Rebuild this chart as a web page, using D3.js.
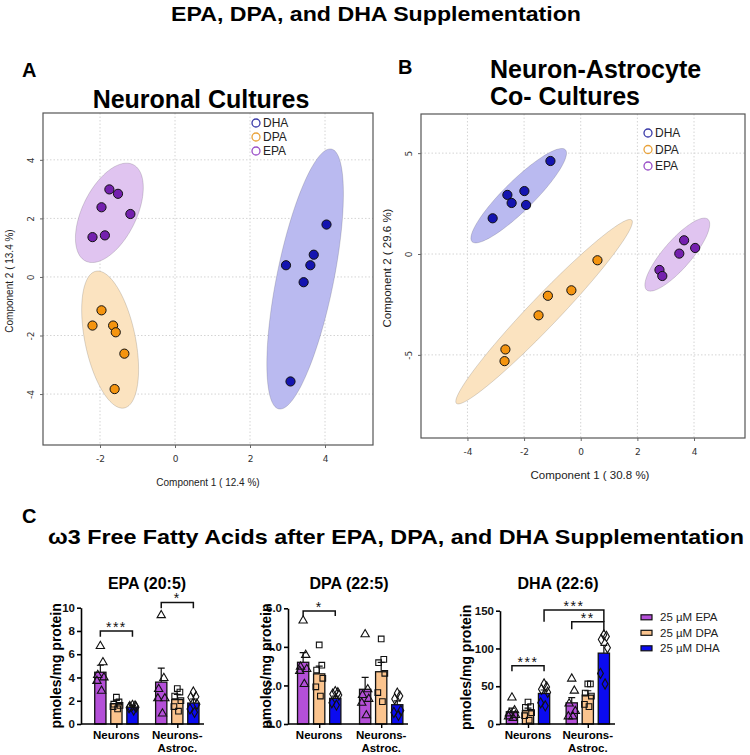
<!DOCTYPE html>
<html>
<head>
<meta charset="utf-8">
<script src="https://cdn.jsdelivr.net/npm/d3@7"></script>
<style>
  body { margin: 0; background: #fff; }
  svg { display: block; font-family: "Liberation Sans", Arial, sans-serif; }
</style>
</head>
<body>
<svg id="fig" width="750" height="755"></svg>
<script>
// ---------- PCA data ----------
var pcaGroups = ["DHA", "DPA", "EPA"]
var pcaColor = {DHA: "#1414b0", DPA: "#f4940f", EPA: "#7420ae"}
var pcaFill = {DHA: "#babaf0", DPA: "#fbe3c0", EPA: "#e0c4f0"}
var pcaLegendColor = {DHA: "#3a3aa8", DPA: "#e9a23a", EPA: "#9a4fc8"}

var neuronEPA = [[-1.75, 2.99], [-1.52, 2.84], [-1.96, 2.38], [-1.19, 2.15], [-2.20, 1.36], [-1.87, 1.42]]
var neuronDPA = [[-1.96, -1.14], [-2.20, -1.66], [-1.65, -1.66], [-1.58, -1.89], [-1.35, -2.62], [-1.61, -3.83]]
var neuronDHA = [[4.04, 1.79], [2.96, 0.40], [3.70, 0.76], [3.61, 0.40], [3.43, -0.18], [3.08, -3.57]]

var coEPA = [[3.65, 0.68], [3.48, 0.02], [4.04, 0.30], [2.78, -0.79], [2.88, -1.09]]
var coDPA = [[0.59, -0.31], [-0.33, -1.80], [-1.16, -2.07], [-1.49, -3.04], [-2.66, -4.73], [-2.69, -5.31]]
var coDHA = [[-1.07, 4.61], [-2.59, 2.93], [-2.44, 2.53], [-1.99, 3.12], [-1.93, 2.43], [-3.11, 1.77]]

// confidence ellipses: centre + the two semi-axis vectors, in data units
var neuronEllipses = [
  {g: "EPA", c: [-1.75, 2.19], a: [0.63, 1.65], b: [0.65, -0.40]},
  {g: "DPA", c: [-1.73, -2.14], a: [-0.377, 2.336], b: [0.659, 0.171]},
  {g: "DHA", c: [3.47, -0.07], a: [0.70, 4.44], b: [0.744, -0.19]}
]
var coEllipses = [
  {g: "DHA", c: [-2.19, 2.89], a: [1.647, 2.281], b: [0.372, -0.529]},
  {g: "DPA", c: [-1.294, -2.86], a: [3.094, 4.545], b: [0.382, -0.512]},
  {g: "EPA", c: [3.41, -0.03], a: [1.082, 1.752], b: [0.374, -0.456]}
]

// ---------- bar chart data ----------
var barGroups = ["Neurons", "Neurons-Astroc."]
var barGroupLines = [["Neurons"], ["Neurons-", "Astroc."]]
var treatments = ["25 µM EPA", "25 µM DPA", "25 µM DHA"]
var barColor = ["#b44fd8", "#fbc48e", "#0b0bf0"]

var epaMeans = [[4.45, 1.75, 1.45], [3.6, 2.1, 1.8]]
var epaErrTop = [[5.05, 2.05, 1.6], [4.8, 2.55, 2.15]]
var epaPts = [
  [[6.7, 5.3, 4.2, 4.0, 3.7, 2.85], [2.3, 1.9, 1.7, 1.6, 1.5, 1.3], [1.6, 1.55, 1.5, 1.45, 1.4, 1.2]],
  [[9.35, 3.95, 3.0, 2.2, 2.2, 0.9], [3.05, 2.75, 2.4, 2.0, 1.5, 1.1], [2.75, 2.35, 2.3, 1.7, 1.3, 1.0]]
]
var epaSig = [
  {a: [0, 0], b: [0, 2], y: 8.0, yl: 7.5, yr: 7.5, label: "***"},
  {a: [1, 0], b: [1, 2], y: 10.45, yl: 9.95, yr: 9.95, label: "*"}
]

var dpaMeans = [[3.2, 2.6, 1.33], [1.8, 2.71, 1.0]]
var dpaErrTop = [[3.7, 3.0, 1.45], [2.42, 3.2, 1.2]]
var dpaPts = [
  [[5.36, 3.58, 2.97, 2.85, 2.75, 2.07], [4.1, 3.05, 2.8, 2.37, 1.93, 1.45], [1.68, 1.62, 1.55, 1.5, 1.1, 0.98]],
  [[4.65, 1.8, 1.5, 1.3, 1.1, 0.45], [4.41, 3.35, 3.18, 2.63, 1.63, 1.16], [1.6, 1.45, 1.3, 0.7, 0.6, 0.45]]
]
var dpaSig = [
  {a: [0, 0], b: [0, 2], y: 5.86, yl: 5.6, yr: 5.6, label: "*"}
]

var dhaMeans = [[16.2, 17.5, 40.4], [28, 38.2, 93.8]]
var dhaErrTop = [[21, 21, 45], [35, 44, 104]]
var dhaPts = [
  [[35, 18, 14, 12, 10, 8], [29, 23, 22, 15, 11, 5], [53, 49, 46, 42, 28, 24]],
  [[60, 44, 27, 17, 10, 10], [53, 53, 41, 37, 26, 23], [118, 116, 112, 101, 67, 53]]
]
var dhaSig = [
  {a: [0, 0], b: [0, 2], y: 77, yl: 70, yr: 70, label: "***"},
  {a: [0, 2], b: [1, 2], y: 151, yl: 135.5, yr: 135.5, label: "***"},
  {a: [1, 0], b: [1, 2], y: 135.5, yl: 125.5, yr: 122, label: "**"}
]

var svg = d3.select("#fig")
var plain = function(d) { return String(d) }   // hyphen minus like the original, not U+2212

// ---------- titles ----------
svg.append("text").attr("x", 376).attr("y", 21).attr("text-anchor", "middle")
  .attr("font-size", 21).attr("font-weight", "bold")
  .attr("textLength", 410).attr("lengthAdjust", "spacingAndGlyphs")
  .text("EPA, DPA, and DHA Supplementation")
svg.append("text").attr("x", 22).attr("y", 77).attr("font-size", 20).attr("font-weight", "bold").text("A")
svg.append("text").attr("x", 398).attr("y", 74).attr("font-size", 20).attr("font-weight", "bold").text("B")
svg.append("text").attr("x", 201).attr("y", 108).attr("text-anchor", "middle")
  .attr("font-size", 25).attr("font-weight", "bold").text("Neuronal Cultures")
svg.append("text").attr("x", 490).attr("y", 78)
  .attr("font-size", 25).attr("font-weight", "bold").text("Neuron-Astrocyte")
svg.append("text").attr("x", 490).attr("y", 105)
  .attr("font-size", 25).attr("font-weight", "bold").text("Co- Cultures")
svg.append("text").attr("x", 22).attr("y", 523).attr("font-size", 20).attr("font-weight", "bold").text("C")
svg.append("text").attr("x", 48).attr("y", 544)
  .attr("font-size", 21).attr("font-weight", "bold")
  .attr("textLength", 696).attr("lengthAdjust", "spacingAndGlyphs")
  .text("ω3 Free Fatty Acids after EPA, DPA, and DHA Supplementation")

// ---------- PCA panels ----------
var ellipsePath = function(e, xs, ys) {
  var pts = d3.range(0, 360, 3).map(function(deg) {
    var t = deg * Math.PI / 180
    return [xs(e.c[0] + e.a[0] * Math.cos(t) + e.b[0] * Math.sin(t)),
            ys(e.c[1] + e.a[1] * Math.cos(t) + e.b[1] * Math.sin(t))]
  })
  return d3.line().curve(d3.curveLinearClosed)(pts)
}

var drawPCA = function(cfg) {
  var xs = d3.scaleLinear().domain(cfg.xDom).range([cfg.x0, cfg.x1])
  var ys = d3.scaleLinear().domain(cfg.yDom).range([cfg.y1, cfg.y0])
  var g = svg.append("g")

  // dotted grid
  g.selectAll(".gx").data(cfg.xTicks).enter().append("line")
    .attr("x1", xs).attr("x2", xs).attr("y1", cfg.y0).attr("y2", cfg.y1)
    .attr("stroke", "#d4d4d4").attr("stroke-dasharray", "1.5,2")
  g.selectAll(".gy").data(cfg.yTicks).enter().append("line")
    .attr("y1", ys).attr("y2", ys).attr("x1", cfg.x0).attr("x2", cfg.x1)
    .attr("stroke", "#d4d4d4").attr("stroke-dasharray", "1.5,2")

  g.selectAll(".ell").data(cfg.ellipses).enter().append("path")
    .attr("d", function(e) { return ellipsePath(e, xs, ys) })
    .attr("fill", function(e) { return pcaFill[e.g] })
    .attr("stroke", "rgba(0,0,0,0.18)").attr("stroke-width", 0.8)

  cfg.series.forEach(function(s) {
    g.selectAll(null).data(s.pts).enter().append("circle")
      .attr("cx", function(d) { return xs(d[0]) })
      .attr("cy", function(d) { return ys(d[1]) })
      .attr("r", 4.6)
      .attr("fill", pcaColor[s.g]).attr("stroke", "#111").attr("stroke-width", 1)
  })

  g.append("rect").attr("x", cfg.x0).attr("y", cfg.y0)
    .attr("width", cfg.x1 - cfg.x0).attr("height", cfg.y1 - cfg.y0)
    .attr("fill", "none").attr("stroke", "#555").attr("stroke-width", 1.2)

  var xAxis = g.append("g").attr("transform", "translate(0," + cfg.y1 + ")")
    .call(d3.axisBottom(xs).tickValues(cfg.xTicks).tickFormat(plain).tickSize(3).tickPadding(8))
  var yAxis = g.append("g").attr("transform", "translate(" + cfg.x0 + ",0)")
    .call(d3.axisLeft(ys).tickValues(cfg.yTicks).tickFormat(plain).tickSize(3))
  ;[xAxis, yAxis].forEach(function(ax) {
    ax.select(".domain").remove()
    ax.selectAll("line").attr("stroke", "#666")
    ax.selectAll("text").attr("font-size", 9).attr("fill", "#333")
      .attr("font-family", "'DejaVu Sans', sans-serif")
  })
  yAxis.selectAll("text").attr("x", 0).attr("dy", 0).attr("text-anchor", "middle")
    .attr("transform", "translate(-9,0) rotate(-90)")

  g.append("text").attr("x", cfg.xTitle[0]).attr("y", cfg.xTitle[1]).attr("text-anchor", "middle")
    .attr("font-size", cfg.titleSize).attr("fill", "#222").text(cfg.xLabel)
  g.append("text").attr("text-anchor", "middle").attr("dominant-baseline", "middle")
    .attr("transform", "translate(" + cfg.yTitle[0] + "," + cfg.yTitle[1] + ") rotate(-90)")
    .attr("font-size", cfg.titleSize).attr("fill", "#222").text(cfg.yLabel)

  var lg = g.selectAll(".lg").data(pcaGroups).enter().append("g")
    .attr("transform", function(d, i) { return "translate(" + cfg.legend[0] + "," + (cfg.legend[1] + i * cfg.legend[2]) + ")" })
  lg.append("circle").attr("r", 4).attr("fill", "none").attr("stroke-width", 1.3)
    .attr("stroke", function(d) { return pcaLegendColor[d] })
  lg.append("text").attr("x", 7).attr("dy", "0.35em").attr("font-size", 12).attr("fill", "#222")
    .text(function(d) { return d })
}

drawPCA({
  x0: 43, x1: 373, y0: 113, y1: 445,
  xDom: [-3.52, 5.28], yDom: [-5.74, 5.6],
  xTicks: [-2, 0, 2, 4], yTicks: [-4, -2, 0, 2, 4],
  ellipses: neuronEllipses,
  series: [{g: "EPA", pts: neuronEPA}, {g: "DPA", pts: neuronDPA}, {g: "DHA", pts: neuronDHA}],
  xLabel: "Component 1 ( 12.4 %)", yLabel: "Component 2 ( 13.4 %)",
  xTitle: [208, 486], yTitle: [10, 281], titleSize: 10,
  legend: [256, 123, 14]
})

drawPCA({
  x0: 421, x1: 745, y0: 114, y1: 438,
  xDom: [-5.64, 5.80], yDom: [-9.12, 6.94],
  xTicks: [-4, -2, 0, 2, 4], yTicks: [-5, 0, 5],
  ellipses: coEllipses,
  series: [{g: "DHA", pts: coDHA}, {g: "DPA", pts: coDPA}, {g: "EPA", pts: coEPA}],
  xLabel: "Component 1 ( 30.8 %)", yLabel: "Component 2 ( 29.6 %)",
  xTitle: [590, 479], yTitle: [388, 268], titleSize: 11.5,
  legend: [648, 133, 16.5]
})

// ---------- bar charts ----------
var shapes = [d3.symbolTriangle, d3.symbolSquare, d3.symbolDiamond]
var shapeSize = [30, 32, 30]
var jitter = [0, 2.6, -2.6, 3.6, -3.4, 1.2]

var drawBars = function(cfg) {
  var ys = d3.scaleLinear().domain([0, cfg.max]).range([cfg.y0, cfg.yTop])
  var xg = d3.scalePoint().domain(barGroups).range(cfg.centers)
  var xt = d3.scaleBand().domain(treatments).range([-26.5, 26.5]).padding(0.3)
  var bw = xt.bandwidth()
  var cx = function(gi, ti) { return xg(barGroups[gi]) + xt(treatments[ti]) + bw / 2 }
  var g = svg.append("g")

  g.append("text").attr("x", cfg.titleX).attr("y", 589).attr("text-anchor", "middle")
    .attr("font-size", 16).attr("font-weight", "bold").text(cfg.title)

  var cells = []
  barGroups.forEach(function(grp, gi) {
    treatments.forEach(function(t, ti) {
      cells.push({gi: gi, ti: ti, mean: cfg.means[gi][ti], err: cfg.err[gi][ti], pts: cfg.pts[gi][ti]})
    })
  })

  // error bars (upper only)
  g.selectAll(".err").data(cells).enter().append("path")
    .attr("d", function(c) {
      var x = cx(c.gi, c.ti)
      return "M" + x + "," + ys(c.mean) + "V" + ys(c.err) + "M" + (x - 3.5) + "," + ys(c.err) + "H" + (x + 3.5)
    })
    .attr("stroke", "#111").attr("stroke-width", 1.2).attr("fill", "none")

  g.selectAll(".bar").data(cells).enter().append("rect")
    .attr("x", function(c) { return cx(c.gi, c.ti) - bw / 2 })
    .attr("y", function(c) { return ys(c.mean) })
    .attr("width", bw)
    .attr("height", function(c) { return ys(0) - ys(c.mean) })
    .attr("fill", function(c) { return barColor[c.ti] })
    .attr("stroke", "#111").attr("stroke-width", 1.3)

  cells.forEach(function(c) {
    g.selectAll(null).data(c.pts).enter().append("path")
      .attr("d", d3.symbol().type(shapes[c.ti]).size(shapeSize[c.ti]))
      .attr("transform", function(v, i) { return "translate(" + (cx(c.gi, c.ti) + jitter[i]) + "," + ys(v) + ")" })
      .attr("fill", "none").attr("stroke", "#111").attr("stroke-width", 1.1)
  })

  // significance brackets
  cfg.sig.forEach(function(s) {
    var xa = cx(s.a[0], s.a[1]), xb = cx(s.b[0], s.b[1])
    g.append("path")
      .attr("d", "M" + xa + "," + ys(s.yl) + "V" + ys(s.y) + "H" + xb + "V" + ys(s.yr))
      .attr("fill", "none").attr("stroke", "#111").attr("stroke-width", 1.5)
    g.append("text").attr("x", (xa + xb) / 2).attr("y", ys(s.y) + 1).attr("text-anchor", "middle")
      .attr("font-size", 14).attr("letter-spacing", 1.5).attr("fill", "#111").text(s.label)
  })

  // axes
  var yAxis = g.append("g").attr("transform", "translate(" + cfg.left + ",0)")
    .call(d3.axisLeft(ys).tickValues(cfg.ticks).tickSize(4).tickSizeOuter(0).tickPadding(2))
  yAxis.select(".domain").attr("stroke-width", 1.6)
  yAxis.selectAll(".tick line").attr("stroke-width", 1.6)
  yAxis.selectAll("text").attr("font-size", 11.5).attr("font-weight", "bold").attr("fill", "#111")
    .attr("font-family", "'Liberation Sans', Arial, sans-serif")

  var xAxis = g.append("g").attr("transform", "translate(0," + cfg.y0 + ")")
    .call(d3.axisBottom(xg).tickSize(4).tickFormat(""))
  xAxis.select(".domain").attr("d", "M" + cfg.left + ",0H" + cfg.right).attr("stroke-width", 1.6)
  xAxis.selectAll(".tick line").attr("stroke-width", 1.4)

  barGroupLines.forEach(function(lines, gi) {
    lines.forEach(function(l, li) {
      g.append("text").attr("x", xg(barGroups[gi])).attr("y", 739 + li * 12.5)
        .attr("text-anchor", "middle").attr("font-size", 11.5).attr("font-weight", "bold").text(l)
    })
  })

  g.append("text").attr("text-anchor", "middle").attr("dominant-baseline", "middle")
    .attr("transform", "translate(" + cfg.yLabelX + "," + (cfg.y0 + cfg.yTop) / 2 + ") rotate(-90)")
    .attr("font-size", 14).attr("font-weight", "bold").text("pmoles/mg protein")
}

drawBars({title: "EPA (20:5)", titleX: 147, left: 81, right: 204, y0: 724, yTop: 607.7, max: 10,
  ticks: [0, 2, 4, 6, 8, 10], centers: [116.4, 177.3], yLabelX: 57,
  means: epaMeans, err: epaErrTop, pts: epaPts, sig: epaSig})
drawBars({title: "DPA (22:5)", titleX: 349, left: 288, right: 408, y0: 724, yTop: 608.3, max: 6,
  ticks: [0, 2, 4, 6], centers: [319.2, 381.2], yLabelX: 267,
  means: dpaMeans, err: dpaErrTop, pts: dpaPts, sig: dpaSig})
drawBars({title: "DHA (22:6)", titleX: 558, left: 500, right: 615, y0: 724, yTop: 610.7, max: 150,
  ticks: [0, 50, 100, 150], centers: [528, 587.8], yLabelX: 467,
  means: dhaMeans, err: dhaErrTop, pts: dhaPts, sig: dhaSig})

// legend for the bar charts
var leg = svg.append("g").selectAll("g").data(treatments).enter().append("g")
  .attr("transform", function(d, i) { return "translate(641," + (617.3 + i * 15.5) + ")" })
leg.append("rect").attr("x", 0).attr("y", -2.5).attr("width", 11).attr("height", 5)
  .attr("fill", function(d, i) { return barColor[i] }).attr("stroke", "#111").attr("stroke-width", 1.2)
leg.append("text").attr("x", 19).attr("dy", "0.35em").attr("font-size", 11.5).attr("fill", "#222")
  .text(function(d) { return d })
</script>
</body>
</html>
